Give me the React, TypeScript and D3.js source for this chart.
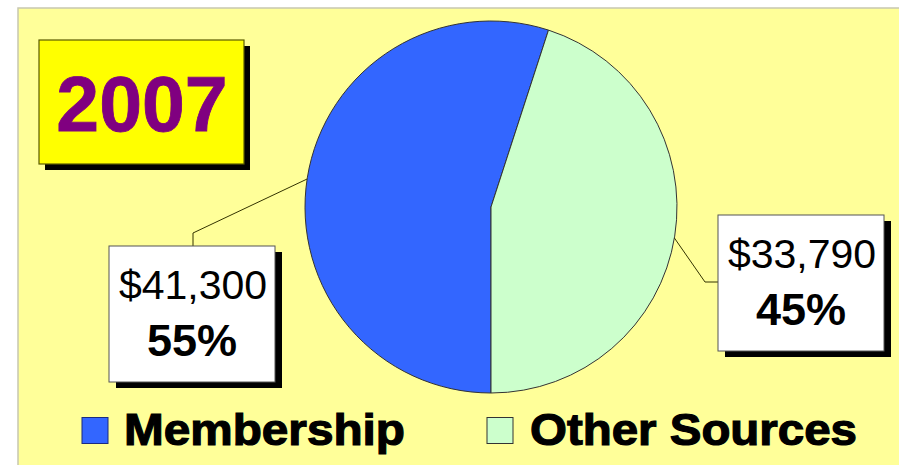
import React from "react";
import * as d3 from "d3";

const categories = ["Membership", "Other Sources"];
const amounts = [41300, 33790];
const amountLabels = ["$41,300", "$33,790"];
const percentLabels = ["55%", "45%"];
const sliceColors = ["#3366FF", "#CCFFCC"];
const title = "2007";

const W = 899;
const H = 465;

export default function App() {
  const cx = 491;
  const cy = 207;
  const r = 186;
  // Membership drawn clockwise from 6 o'clock; Other Sources fills the remainder
  const pie = d3
    .pie<number>()
    .sort(null)
    .value((d) => d)
    .startAngle(Math.PI)
    .endAngle(3 * Math.PI);
  const arcs = pie(amounts);
  const arc = d3.arc<d3.PieArcDatum<number>>().innerRadius(0).outerRadius(r);

  // leader line anchor points on the pie edge
  const leftY = 179;
  const leftX = cx - Math.sqrt(r * r - (cy - leftY) * (cy - leftY));
  const rightY = 238;
  const rightX = cx + Math.sqrt(r * r - (rightY - cy) * (rightY - cy));

  const labelBoxes = [
    { x: 109, y: 246, w: 166, h: 136 },
    { x: 718, y: 215, w: 166, h: 136 },
  ];

  const legend = [
    { sx: 82, tx: 124, tl: 281 },
    { sx: 487, tx: 530, tl: 327 },
  ];

  return (
    <div style={{ position: "absolute", left: 0, top: 0 }}>
      <svg width={W} height={H} style={{ display: "block", fontFamily: "'Liberation Sans', Arial, sans-serif" }}>
        <rect x={0} y={0} width={W} height={H} fill="#FFFFFF" />
        <rect x={18} y={8} width={W} height={H} fill="#FFFF99" stroke="#C8C8B0" strokeWidth={1.5} />

        {/* Title box */}
        <rect x={45} y={46} width={205} height={124} fill="#000" />
        <rect x={39} y={40} width={205} height={124} fill="#FFFF00" stroke="#5a5a00" strokeWidth={1.2} />
        <text
          x={142}
          y={131}
          textAnchor="middle"
          fontSize={77}
          fontWeight="bold"
          fill="#800080"
          stroke="#800080"
          strokeWidth={0.8}
        >
          {title}
        </text>

        {/* Pie */}
        <g transform={`translate(${cx},${cy})`}>
          {arcs.map((a, i) => (
            <path key={categories[i]} d={arc(a) || ""} fill={sliceColors[i]} stroke="#333" strokeWidth={1} />
          ))}
        </g>

        {/* Leader lines */}
        <polyline
          points={`193,246 193,233 ${leftX},${leftY}`}
          fill="none"
          stroke="#333300"
          strokeWidth={1}
        />
        <polyline
          points={`${rightX},${rightY} 705,282 718,282`}
          fill="none"
          stroke="#333300"
          strokeWidth={1}
        />

        {/* Label boxes */}
        {labelBoxes.map((b, i) => (
          <g key={i}>
            <rect x={b.x + 7} y={b.y + 6} width={b.w} height={b.h} fill="#000" />
            <rect x={b.x} y={b.y} width={b.w} height={b.h} fill="#FFFFFF" stroke="#555" strokeWidth={1} />
            <text x={b.x + b.w / 2 + 1} y={b.y + 53} textAnchor="middle" fontSize={41} fill="#000">
              {amountLabels[i]}
            </text>
            <text x={b.x + b.w / 2} y={b.y + 110} textAnchor="middle" fontSize={45} fontWeight="bold" fill="#000">
              {percentLabels[i]}
            </text>
          </g>
        ))}

        {/* Legend */}
        {legend.map((l, i) => (
          <g key={categories[i]}>
            <rect
              x={l.sx}
              y={417.5}
              width={26}
              height={26}
              fill={sliceColors[i]}
              stroke={i === 0 ? "#1a2a80" : "#333"}
              strokeWidth={1}
            />
            <text
              x={l.tx}
              y={445}
              fontSize={45}
              fontWeight="bold"
              fill="#000"
              stroke="#000"
              strokeWidth={1.2}
              textLength={l.tl}
              lengthAdjust="spacingAndGlyphs"
            >
              {categories[i]}
            </text>
          </g>
        ))}
      </svg>
    </div>
  );
}
